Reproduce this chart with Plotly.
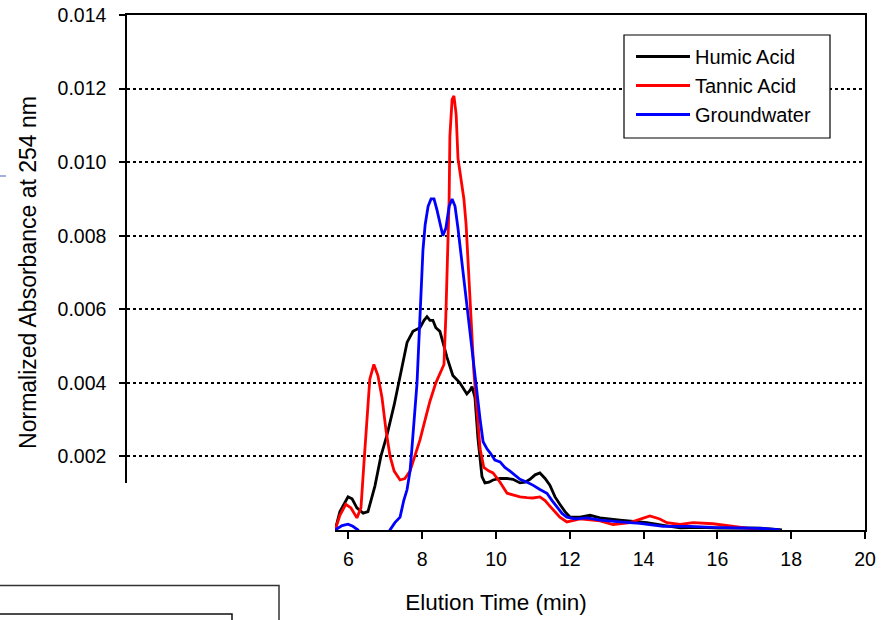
import plotly.graph_objects as go

# ---- data ----
humic_x = [5.64, 5.77, 5.99, 6.10, 6.23, 6.40, 6.53, 6.72, 6.88, 7.05, 7.24, 7.40, 7.59, 7.75, 7.94,
           8.05, 8.13, 8.21, 8.29, 8.37, 8.48, 8.59, 8.67, 8.83, 9.02, 9.21, 9.30, 9.35, 9.43, 9.51,
           9.62, 9.70, 9.81, 9.92, 10.11, 10.30, 10.46, 10.65, 10.79, 10.92, 11.06, 11.19, 11.33,
           11.46, 11.60, 11.73, 11.87, 12.01, 12.28, 12.55, 12.82, 13.36, 14.09, 14.58, 14.99,
           15.53, 16.07, 16.61, 17.15, 17.51, 17.75]
humic_y = [0.0, 0.0005, 0.0009, 0.00085, 0.0006, 0.00046, 0.0005, 0.0012, 0.0020, 0.0026, 0.0034,
           0.0042, 0.0051, 0.0054, 0.0055, 0.0057, 0.0058, 0.0057, 0.0057, 0.0055, 0.0054, 0.0050,
           0.0047, 0.0042, 0.0040, 0.0037, 0.0038, 0.0039, 0.0036, 0.0025, 0.00145, 0.00128, 0.0013,
           0.00136, 0.0014, 0.0014, 0.00138, 0.00128, 0.0013, 0.00138, 0.0015, 0.00155, 0.0014,
           0.00122, 0.0009, 0.0007, 0.0005, 0.00035, 0.00035, 0.0004, 0.00033, 0.00027, 0.0002,
           0.00012, 0.00006, 0.00007, 0.00005, 0.00006, 0.00005, 0.00002, 0.0]

tannic_x = [5.64, 5.77, 5.93, 6.07, 6.23, 6.34, 6.42, 6.50, 6.58, 6.69, 6.80, 6.91, 7.02, 7.13, 7.24,
            7.40, 7.53, 7.67, 7.80, 7.94, 8.08, 8.21, 8.37, 8.51, 8.59, 8.64, 8.70, 8.73, 8.75, 8.81,
            8.86, 8.92, 8.97, 9.05, 9.13, 9.19, 9.24, 9.32, 9.40, 9.49, 9.57, 9.67, 9.81, 9.92,
            10.11, 10.30, 10.46, 10.65, 10.84, 11.00, 11.19, 11.33, 11.46, 11.60, 11.73, 11.92,
            12.28, 12.82, 13.17, 13.63, 13.90, 14.17, 14.44, 14.63, 14.99, 15.34, 15.88, 16.34,
            16.80, 17.15]
tannic_y = [0.0, 0.0004, 0.0007, 0.0006, 0.00033, 0.0006, 0.0018, 0.0030, 0.0041, 0.0045, 0.0042,
            0.0036, 0.0027, 0.0020, 0.0016, 0.00136, 0.0014, 0.0016, 0.0020, 0.00245, 0.0030, 0.0035,
            0.0040, 0.0043, 0.0045, 0.0058, 0.0078, 0.0090, 0.0107, 0.0117, 0.0118, 0.0113, 0.0101,
            0.0096, 0.0090, 0.0083, 0.0074, 0.0059, 0.0043, 0.0032, 0.0022, 0.0017, 0.0016, 0.00155,
            0.0013, 0.0010, 0.00095, 0.0009, 0.00088, 0.00087, 0.0009, 0.0008, 0.00065, 0.0005,
            0.00035, 0.00022, 0.0003, 0.00025, 0.00015, 0.0002, 0.0003, 0.00038, 0.0003, 0.0002,
            0.00015, 0.0002, 0.00017, 0.0001, 0.00005, 0.0]

ground_x = [5.64, 5.83, 5.99, 6.12, 6.26, 6.42, 6.86, 7.13, 7.26, 7.40, 7.50, 7.59, 7.67, 7.72, 7.86,
            7.94, 8.02, 8.08, 8.16, 8.24, 8.32, 8.40, 8.48, 8.56, 8.64, 8.73, 8.81, 8.89, 8.97, 9.05,
            9.13, 9.21, 9.30, 9.38, 9.49, 9.57, 9.65, 9.76, 9.84, 9.97, 10.11, 10.24, 10.38, 10.51,
            10.65, 10.84, 11.00, 11.19, 11.38, 11.52, 11.65, 11.79, 11.92, 12.14, 12.47, 12.82,
            13.36, 13.90, 14.53, 15.26, 15.88, 16.61, 17.29, 17.70]
ground_y = [0.0, 0.00012, 0.00016, 0.0001, 0.0, -0.0003, -0.0004, 0.0, 0.0002, 0.00035, 0.0008,
            0.0011, 0.0016, 0.0022, 0.0040, 0.0058, 0.0076, 0.0083, 0.0088, 0.0090, 0.0090, 0.0087,
            0.0083, 0.0080, 0.0082, 0.0088, 0.0090, 0.0088, 0.0082, 0.0075, 0.0067, 0.0060, 0.0052,
            0.0045, 0.0036, 0.0030, 0.0024, 0.0022, 0.0021, 0.0019, 0.00185, 0.0017, 0.0016, 0.0015,
            0.00138, 0.0013, 0.00122, 0.0011, 0.0010, 0.0008, 0.00063, 0.00045, 0.00035, 0.0003,
            0.00033, 0.00027, 0.00022, 0.00018, 0.0001, 0.0001, 0.00007, 0.00006, 0.00004, 0.0]

series_names = ["Humic Acid", "Tannic Acid", "Groundwater"]
series_colors = ["#000000", "#ff0000", "#0000ff"]

x_title = "Elution Time (min)"
y_title = "Normalized Absorbance at 254 nm"

# ---- layout geometry (screen pixels; body margin removed below) ----
W, H = 884, 620
PL, PT, PR, PB = 127, 15, 865, 530        # plot box
L, T = PL, PT
PW, PH = PR - PL, PB - PT
R, B = W - L - PW, H - T - PH


def px(x):  # screen x -> paper
    return (x - PL) / PW


def py(y):  # screen y -> paper
    return (PB - y) / PH


FONT = "Liberation Sans, Arial, sans-serif"

fig = go.Figure()
for name, xs, ys, col in zip(series_names, [humic_x, tannic_x, ground_x],
                             [humic_y, tannic_y, ground_y], series_colors):
    fig.add_trace(go.Scatter(x=xs, y=ys, mode="lines", name=name,
                             line=dict(color=col, width=2.8)))

shapes = [
    # legend frame
    dict(type="rect", xref="paper", yref="paper", x0=px(624), x1=px(830), y0=py(138), y1=py(35),
         fillcolor="white", line=dict(color="#000000", width=1.2), layer="above"),
    # white panel overlapping the lower-left corner
    dict(type="rect", xref="paper", yref="paper", x0=px(-5), x1=px(335), y0=py(630), y1=py(483),
         fillcolor="white", line=dict(width=0), layer="above"),
    dict(type="path", xref="paper", yref="paper",
         path=f"M{px(-2)},{py(585.5)} L{px(279)},{py(585.5)} L{px(279)},{py(630)}",
         line=dict(color="#333333", width=1.5), layer="above"),
    dict(type="path", xref="paper", yref="paper",
         path=f"M{px(-2)},{py(614)} L{px(232)},{py(614)} L{px(232)},{py(630)}",
         line=dict(color="#111111", width=1.5), layer="above"),
    dict(type="line", xref="paper", yref="paper", x0=px(0), x1=px(6), y0=py(176), y1=py(176),
         line=dict(color="#9fb4d8", width=2), layer="above"),
]

fig.update_layout(
    width=W, height=H,
    margin=dict(l=L, r=R, t=T, b=B, pad=0, autoexpand=False),
    paper_bgcolor="white", plot_bgcolor="white",
    font=dict(family=FONT, size=19, color="#000000"),
    showlegend=True,
    legend=dict(x=px(631), y=py(37), xanchor="left", yanchor="top",
                bgcolor="rgba(0,0,0,0)", borderwidth=0,
                font=dict(family=FONT, size=20, color="#000000"),
                tracegroupgap=0, itemwidth=54),
    shapes=shapes,
)

fig.update_xaxes(range=[0, 20], tickmode="linear", tick0=0, dtick=2, automargin=False,
                 showgrid=False, zeroline=False,
                 showline=True, linecolor="#000000", linewidth=1.5, mirror=True,
                 ticks="outside", ticklen=7, tickwidth=1.5, tickcolor="#000000",
                 ticklabelstandoff=4, ticklabeloverflow="allow",
                 tickfont=dict(size=19.5, color="#000000"),
                 title=dict(text=x_title, font=dict(size=22.5, color="#000000"), standoff=25))

fig.update_yaxes(range=[0, 0.014], tickmode="linear", tick0=0, dtick=0.002, tickformat=".3f",
                 automargin=False,
                 showgrid=True, gridcolor="#000000", gridwidth=1.5, griddash="dot",
                 zeroline=False,
                 showline=True, linecolor="#000000", linewidth=1.5, mirror=True,
                 ticks="outside", ticklen=6, tickwidth=1.5, tickcolor="#000000",
                 ticklabelstandoff=9, ticklabeloverflow="allow",
                 tickfont=dict(size=19.5, color="#000000"),
                 title=dict(text=y_title, font=dict(size=23, color="#000000"), standoff=14))

fig.write_html("out.html",
               config={"displayModeBar": False},
               post_script="document.body.style.margin='0';document.body.style.padding='0';")
